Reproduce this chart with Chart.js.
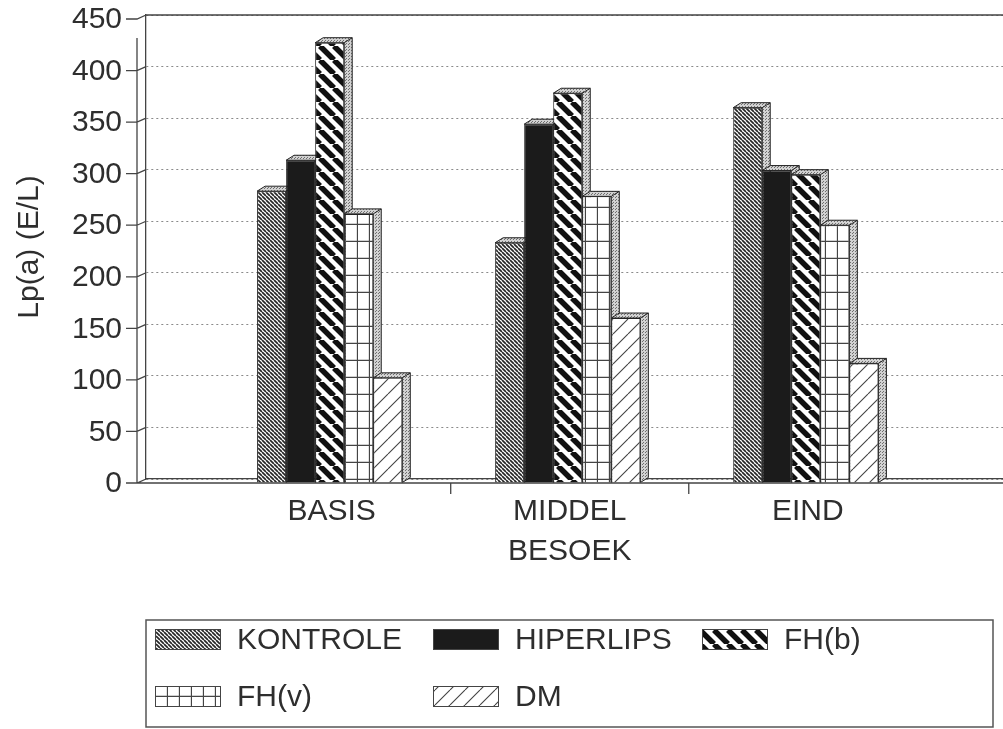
<!DOCTYPE html>
<html lang="nl">
<head>
<meta charset="utf-8">
<title>Lp(a) (E/L)</title>
<script src="https://cdn.jsdelivr.net/npm/chart.js"></script>
<style>
  html, body { margin: 0; padding: 0; background: #fff; }
  #wrap { width: 1003px; height: 729px; }
</style>
</head>
<body>
<div id="wrap"><canvas id="lpaChart" width="1003" height="729"></canvas></div>
<script>
// chart data
const categories = [["BASIS"], ["MIDDEL", "BESOEK"], ["EIND"]];
const seriesNames = ["KONTROLE", "HIPERLIPS", "FH(b)", "FH(v)", "DM"];
const kontrole = [283, 233, 364];
const hiperlips = [313, 348, 303];
const fhB = [427, 378, 299];
const fhV = [261, 278, 250];
const dm = [102, 160, 116];
const yTicks = [0, 50, 100, 150, 200, 250, 300, 350, 400, 450];

const FONT = '"Liberation Sans", Arial, Helvetica, sans-serif';
const INK = "#2e2e2e";
const depth = { dx: 8, dy: 5 };     // 3D offset of bar tops / sides
const shift = { x: -2, y: 4 };      // bar fronts sit on the front of the floor

document.addEventListener("DOMContentLoaded", () => {
  const canvas = document.getElementById("lpaChart");
  const ctx = canvas.getContext("2d");

  function makePattern(w, h, draw) {
    const c = document.createElement("canvas");
    c.width = w; c.height = h;
    draw(c.getContext("2d"), w, h);
    return ctx.createPattern(c, "repeat");
  }

  function hatch(size, width, color, dir) {
    return makePattern(size, size, g => {
      g.fillStyle = "#fff";
      g.fillRect(0, 0, size, size);
      g.strokeStyle = color;
      g.lineWidth = width;
      g.beginPath();
      for (let k = -1; k <= 1; k++) {
        if (dir === "\\") { g.moveTo(k * size, 0); g.lineTo(k * size + size, size); }
        else { g.moveTo(k * size, size); g.lineTo(k * size + size, 0); }
      }
      g.stroke();
    });
  }

  const cells = makePattern(12, 17, g => {
    g.fillStyle = "#fff";
    g.fillRect(0, 0, 12, 17);
    g.strokeStyle = "#444";
    g.lineWidth = 1.3;
    g.beginPath();
    g.moveTo(11.5, 0); g.lineTo(11.5, 17);
    g.moveTo(0, 16.5); g.lineTo(12, 16.5);
    g.stroke();
  });

  const stipple = makePattern(3, 3, g => {
    g.fillStyle = "#d2d2d2";
    g.fillRect(0, 0, 3, 3);
    g.fillStyle = "#6e6e6e";
    g.fillRect(0, 0, 1, 1);
    g.fillRect(2, 1, 1, 1);
  });

  const fills = [
    hatch(4, 1.7, "#262626", "\\"),
    "#1b1b1b",
    hatch(14, 5.5, "#111", "\\"),
    cells,
    hatch(15, 1.1, "#444", "/")
  ];
  const series = [kontrole, hiperlips, fhB, fhV, dm];

  // tops and right sides of the bars, drawn left to right before the fronts
  const bars3d = {
    id: "bars3d",
    beforeDatasetsDraw(chart) {
      const c = chart.ctx;
      c.save();
      c.translate(shift.x, shift.y);
      c.strokeStyle = "#222";
      c.lineWidth = 1;
      for (let i = 0; i < categories.length; i++) {
        chart.data.datasets.forEach((ds, d) => {
          const bar = chart.getDatasetMeta(d).data[i];
          const l = bar.x - bar.width / 2, r = bar.x + bar.width / 2;
          const t = bar.y, b = bar.base;
          c.beginPath();
          c.moveTo(l, t);
          c.lineTo(l + depth.dx, t - depth.dy);
          c.lineTo(r + depth.dx, t - depth.dy);
          c.lineTo(r + depth.dx, b - depth.dy);
          c.lineTo(r, b);
          c.lineTo(r, t);
          c.closePath();
          c.fillStyle = stipple;
          c.fill();
          c.stroke();
          c.beginPath();
          c.moveTo(r, t);
          c.lineTo(r + depth.dx, t - depth.dy);
          c.stroke();
        });
      }
    },
    afterDatasetsDraw(chart) {
      chart.ctx.restore();
    }
  };

  // wall, floor, axis ticks and the legend box
  const frame = {
    id: "frame",
    afterDraw(chart) {
      const { ctx: c, chartArea: a, scales: { x, y } } = chart;
      const fx = a.left - 9;
      const fy = a.bottom + shift.y;
      c.save();
      c.strokeStyle = "#444";
      c.lineWidth = 1.3;
      c.beginPath();
      c.moveTo(a.left, a.top); c.lineTo(a.right, a.top);
      c.moveTo(fx, a.top + 23); c.lineTo(fx, fy);
      c.moveTo(fx, fy); c.lineTo(a.left, a.bottom);
      c.moveTo(fx, fy); c.lineTo(a.right, fy);
      yTicks.forEach(v => {
        const yb = y.getPixelForValue(v);
        c.moveTo(fx - 11, yb + 4);
        c.lineTo(fx, yb + 4);
        c.lineTo(a.left, yb);
      });
      [0.5, 1.5].forEach(v => {
        const px = x.getPixelForValue(v);
        c.moveTo(px, fy); c.lineTo(px, fy + 11);
      });
      c.stroke();

      // legend
      const box = { left: 146, top: 620, right: 993, bottom: 727 };
      c.lineWidth = 1.5;
      c.strokeStyle = "#555";
      c.strokeRect(box.left, box.top, box.right - box.left, box.bottom - box.top);
      const cols = [155, 433, 702];
      const rows = [629, 686];
      c.font = "30px " + FONT;
      c.textBaseline = "middle";
      c.textAlign = "left";
      seriesNames.forEach((name, d) => {
        const sx = cols[d % 3], sy = rows[Math.floor(d / 3)];
        c.fillStyle = fills[d];
        c.fillRect(sx, sy, 66, 21);
        c.lineWidth = 1;
        c.strokeStyle = "#444";
        c.strokeRect(sx + 0.5, sy + 0.5, 65, 20);
        c.fillStyle = INK;
        c.fillText(name, sx + 82, sy + 12);
      });
      c.restore();
    }
  };

  new Chart(ctx, {
    type: "bar",
    data: {
      datasets: seriesNames.map((name, d) => ({
        label: name,
        data: series[d].map((v, i) => ({ x: i, y: v })),
        backgroundColor: fills[d],
        borderColor: "#222",
        borderWidth: 1,
        categoryPercentage: 0.61,
        barPercentage: 1,
        clip: false
      }))
    },
    options: {
      responsive: false,
      animation: false,
      events: [],
      layout: { padding: { top: 15, right: 0, bottom: 0, left: 0 } },
      plugins: {
        legend: { display: false },
        tooltip: { enabled: false }
      },
      scales: {
        x: {
          type: "linear",
          offset: false,
          min: -0.78,
          max: 2.82,
          grid: { display: false, drawTicks: false, offset: false },
          border: { display: true, color: "#444", width: 1.3 },
          afterBuildTicks: s => { s.ticks = categories.map((c, i) => ({ value: i })); },
          afterFit: s => { s.height = 250; s.paddingLeft = 0; s.paddingRight = 0; },
          ticks: {
            autoSkip: false,
            maxRotation: 0,
            padding: 12,
            color: INK,
            font: { family: FONT, size: 30, lineHeight: 1.35 },
            callback: v => categories[v]
          }
        },
        y: {
          min: 0,
          max: 450,
          afterBuildTicks: s => { s.ticks = yTicks.map(v => ({ value: v })); },
          afterFit: s => { s.width = 146; s.paddingTop = 0; s.paddingBottom = 0; },
          grid: { color: "#8a8a8a", lineWidth: 1, drawTicks: false },
          border: { display: true, color: "#444", width: 1.3, dash: [2, 3] },
          ticks: {
            padding: 24,
            labelOffset: 5,
            color: INK,
            font: { family: FONT, size: 30, lineHeight: 1 }
          },
          title: {
            display: true,
            text: "Lp(a) (E/L)",
            color: INK,
            padding: { top: 12, bottom: 0 },
            font: { family: FONT, size: 30 }
          }
        }
      }
    },
    plugins: [bars3d, frame]
  });
});
</script>
</body>
</html>
